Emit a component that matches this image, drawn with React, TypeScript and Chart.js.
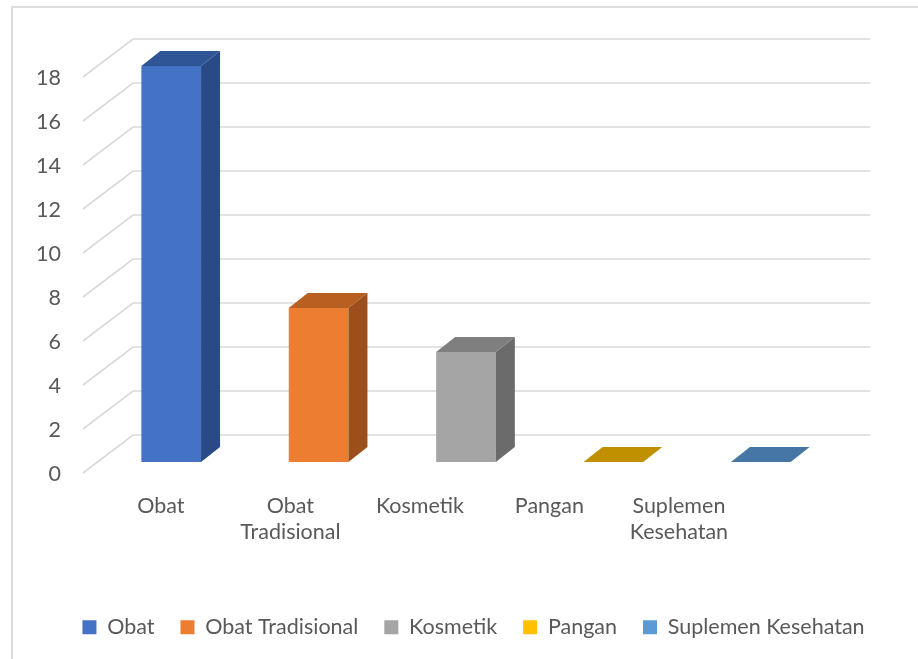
import React, { useEffect, useRef } from "react";
import { Chart, registerables } from "chart.js";

Chart.register(...registerables);

// ---- data ----
const CATEGORIES = ["Obat", "Obat Tradisional", "Kosmetik", "Pangan", "Suplemen Kesehatan"];
const VALUES = [18, 7, 5, 0, 0];
const Y_MIN = 0;
const Y_MAX = 18;
const Y_STEP = 2;

// ---- styles ----
const FRONT_COLORS = ["#4472C4", "#ED7D31", "#A5A5A5", "#FFC000", "#5B9BD5"];
const TOP_COLORS = ["#2F5597", "#B85F22", "#7F7F7F", "#C09000", "#4676A3"];
const SIDE_COLORS = ["#2A4A85", "#9C4F1B", "#6B6B6B", "#A07800", "#3A6690"];
const FONT = { family: "Lato, 'Open Sans', sans-serif", size: 21.5 };
const TEXT = "#595959";
const GRID = "#d9d9d9";
const DEPTH = { dx: 19, dy: 15 };
const FRONT_WALL = { dx: -14.5, dy: 11 };
const BACK_WALL = { dx: 35.5, dy: -27 };

const wrapLabel = (s: string) => (s.includes(" ") && s.length > 10 ? s.split(" ") : s);

const poly = (ctx: CanvasRenderingContext2D, pts: number[][], color: string) => {
  ctx.beginPath();
  ctx.moveTo(pts[0][0], pts[0][1]);
  for (let i = 1; i < pts.length; i++) ctx.lineTo(pts[i][0], pts[i][1]);
  ctx.closePath();
  ctx.fillStyle = color;
  ctx.fill();
};

const plugin3d = {
  id: "plugin3d",
  beforeDatasetsDraw(chart: any) {
    const { ctx, chartArea, scales } = chart;
    const y = scales.y;
    ctx.save();
    ctx.strokeStyle = GRID;
    ctx.lineWidth = 1.6;
    y.ticks.forEach((t: any) => {
      const py = y.getPixelForValue(t.value);
      ctx.beginPath();
      ctx.moveTo(chartArea.left + FRONT_WALL.dx, py + FRONT_WALL.dy);
      ctx.lineTo(chartArea.left + BACK_WALL.dx, py + BACK_WALL.dy);
      ctx.lineTo(chartArea.right + BACK_WALL.dx, py + BACK_WALL.dy);
      ctx.stroke();
    });
    ctx.restore();
  },
  afterDatasetsDraw(chart: any) {
    const { ctx } = chart;
    const meta = chart.getDatasetMeta(0);
    ctx.save();
    meta.data.forEach((el: any, i: number) => {
      const { x, y, base, width } = el.getProps(["x", "y", "base", "width"], true);
      const l = x - width / 2;
      const r = x + width / 2;
      poly(ctx, [[l, y], [r, y], [r + DEPTH.dx, y - DEPTH.dy], [l + DEPTH.dx, y - DEPTH.dy]], TOP_COLORS[i]);
      if (base - y > 0.5) {
        poly(ctx, [[r, y], [r + DEPTH.dx, y - DEPTH.dy], [r + DEPTH.dx, base - DEPTH.dy], [r, base]], SIDE_COLORS[i]);
      }
    });
    ctx.restore();
  },
};

export default function App() {
  const ref = useRef<HTMLCanvasElement | null>(null);

  useEffect(() => {
    if (!ref.current) return;
    const chart = new Chart(ref.current, {
      type: "bar",
      data: {
        labels: CATEGORIES,
        datasets: [
          {
            label: "Jumlah",
            data: VALUES,
            backgroundColor: FRONT_COLORS,
            borderWidth: 0,
            xAxisID: "x",
            yAxisID: "y",
            barPercentage: 0.405,
            categoryPercentage: 1,
          },
        ],
      },
      options: {
        animation: false,
        responsive: false,
        maintainAspectRatio: false,
        layout: { padding: { left: 29, right: 0, top: 66, bottom: 11 } },
        plugins: {
          tooltip: { enabled: false },
          legend: {
            position: "bottom",
            labels: {
              boxWidth: 14,
              boxHeight: 14,
              padding: 26,
              color: TEXT,
              font: FONT,
              generateLabels: () =>
                CATEGORIES.map((c, i) => ({
                  text: c,
                  fillStyle: FRONT_COLORS[i],
                  strokeStyle: FRONT_COLORS[i],
                  lineWidth: 0,
                  hidden: false,
                  index: i,
                  datasetIndex: 0,
                  fontColor: TEXT,
                })),
            },
          },
        },
        scales: {
          x: {
            type: "category",
            display: false,
            offset: true,
          },
          xl: {
            type: "linear",
            position: "bottom",
            offset: false,
            bounds: "data",
            min: -0.4896,
            max: 5.2015,
            grid: { display: false, drawTicks: false, offset: false },
            border: { display: false },
            afterBuildTicks: (s: any) => {
              s.ticks = CATEGORIES.map((_, i) => ({ value: i }));
            },
            afterFit: (s: any) => {
              s.height = 128.5;
              s.paddingLeft = 0;
              s.paddingRight = 0;
            },
            ticks: {
              autoSkip: false,
              maxRotation: 0,
              padding: 31,
              color: TEXT,
              font: FONT,
              callback: (v: any) => wrapLabel(CATEGORIES[Math.round(Number(v))] ?? ""),
            },
          },
          y: {
            type: "linear",
            position: "left",
            min: Y_MIN,
            max: Y_MAX,
            grid: { display: false, drawTicks: false },
            border: { display: false },
            afterFit: (s: any) => {
              s.width = 68.5;
            },
            ticks: {
              stepSize: Y_STEP,
              padding: 36.5,
              labelOffset: 12,
              color: TEXT,
              font: FONT,
            },
          },
          yr: {
            type: "linear",
            position: "right",
            min: 0,
            max: 1,
            grid: { display: false, drawTicks: false },
            border: { display: false },
            ticks: { display: false },
            afterFit: (s: any) => {
              s.width = 83.5;
            },
          },
        },
      } as any,
      plugins: [plugin3d],
    });
    return () => chart.destroy();
  }, []);

  return (
    <div style={{ position: "fixed", left: 0, top: 0, width: 918, height: 659, background: "#fff", overflow: "hidden" }}>
      <div
        style={{
          position: "absolute",
          left: 11,
          top: 6,
          width: 940,
          height: 700,
          border: "2px solid #dedede",
          boxSizing: "border-box",
        }}
      />
      <canvas ref={ref} width={918} height={659} style={{ position: "absolute", left: 0, top: 0, display: "block" }} />
    </div>
  );
}
